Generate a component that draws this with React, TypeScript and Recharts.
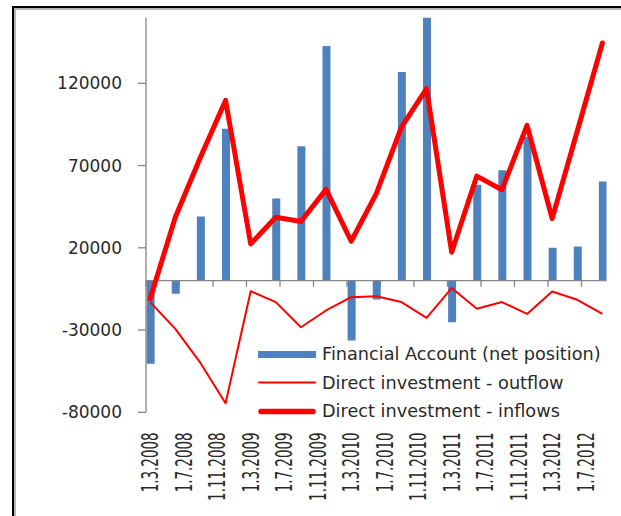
import React from 'react';
import { ComposedChart, Bar, Line, XAxis, YAxis, ReferenceLine, Legend } from 'recharts';

const quarterDates = [
  '1.3.2008', '1.6.2008', '1.9.2008', '1.12.2008',
  '1.3.2009', '1.6.2009', '1.9.2009', '1.12.2009',
  '1.3.2010', '1.6.2010', '1.9.2010', '1.12.2010',
  '1.3.2011', '1.6.2011', '1.9.2011', '1.12.2011',
  '1.3.2012', '1.6.2012', '1.9.2012',
];

const financialAccount = [
  -50500, -8000, 39000, 92400,
  0, 50000, 81800, 142600,
  -36400, -11400, 126800, 160000,
  -25200, 58300, 67200, 87500,
  20000, 20800, 60300,
];

const directOutflow = [
  -13000, -29300, -50000, -74500,
  -6400, -13000, -28300, -18100,
  -10000, -9400, -13000, -22600,
  -4500, -17100, -13000, -20200,
  -6600, -11600, -20200,
];

const directInflows = [
  -11000, 38600, 75100, 109600,
  22400, 38600, 36000, 55500,
  24000, 52900, 93400, 116700,
  17300, 63600, 55300, 94400,
  37700, 91000, 144500,
];

const seriesNames = [
  'Financial Account (net position)',
  'Direct investment - outflow',
  'Direct investment - inflows',
];

const xTickLabels = [
  '1.3.2008', '1.7.2008', '1.11.2008', '1.3.2009', '1.7.2009', '1.11.2009',
  '1.3.2010', '1.7.2010', '1.11.2010', '1.3.2011', '1.7.2011', '1.11.2011',
  '1.3.2012', '1.7.2012',
];

const yTicks = [-80000, -30000, 20000, 70000, 120000];
const yDomain = [-80000, 160000];
const xDomain = [0, 55];

const monthIndex = (d: string) => {
  const parts = d.split('.').map(Number);
  return (parts[2] - 2008) * 12 + (parts[1] - 3);
};

const data = quarterDates.map((d, i) => ({
  date: d,
  t: monthIndex(d) + 0.5,
  fa: financialAccount[i],
  out: directOutflow[i],
  inf: directInflows[i],
}));

const labelTicks = xTickLabels.map((l) => monthIndex(l) + 0.5);
const labelByTick = new Map(labelTicks.map((t, i) => [t, xTickLabels[i]]));
const tickMarks = xTickLabels.map((l) => monthIndex(l));

const FONT = '"DejaVu Sans", Verdana, sans-serif';
const TEXT = '#2a2a2a';
const AXIS = '#868686';
const BLUE = '#4f81bd';
const RED = '#ff0000';

const XTick = (props: any) => {
  const { x, y, payload } = props;
  return (
    <g transform={`translate(${x},${y})`}>
      <g transform="scale(1.7,1)">
        <text
          transform="rotate(-90)"
          textAnchor="end"
          dy="0.36em"
          fontSize={13.5}
          fontFamily={FONT}
          fill={TEXT}
        >
          {labelByTick.get(payload.value)}
        </text>
      </g>
    </g>
  );
};

const iconFor = (key: string) => {
  if (key === 'fa') return <rect x={0} y={6} width={58} height={7} fill={BLUE} />;
  if (key === 'out') return <line x1={1} y1={9.5} x2={57} y2={9.5} stroke={RED} strokeWidth={2} strokeLinecap="round" />;
  return <line x1={3} y1={9.5} x2={55} y2={9.5} stroke={RED} strokeWidth={5.5} strokeLinecap="round" />;
};

const LegendContent = (props: any) => {
  const payload = [...(props.payload || [])].sort(
    (a: any, b: any) => seriesNames.indexOf(a.value) - seriesNames.indexOf(b.value)
  );
  return (
    <div style={{ fontFamily: FONT, fontSize: 17.7, color: TEXT }}>
      {payload.map((p: any) => (
        <div key={String(p.dataKey)} style={{ display: 'flex', alignItems: 'center', height: 28.5, whiteSpace: 'nowrap' }}>
          <svg width={60} height={19} style={{ marginRight: 4, flex: 'none' }}>
            {iconFor(String(p.dataKey))}
          </svg>
          <span>{p.value}</span>
        </div>
      ))}
    </div>
  );
};

export default function App() {
  return (
    <div style={{ position: 'absolute', left: 0, top: 0, width: 621, height: 516, background: '#fff', overflow: 'hidden' }}>
      <div
        style={{
          position: 'absolute',
          left: 12,
          top: 6,
          width: 609,
          height: 510,
          borderLeft: '2.5px solid #000',
          borderTop: '2px solid #000',
          boxShadow: 'inset 2px 2px 0 #b4b4b4',
          boxSizing: 'border-box',
        }}
      />
      <div style={{ position: 'absolute', left: 0, top: 0 }}>
        <ComposedChart
          width={621}
          height={516}
          data={data}
          margin={{ top: 17.5, right: 14.4, bottom: 13.7, left: 86 }}
        >
          <XAxis
            dataKey="t"
            type="number"
            domain={xDomain}
            ticks={labelTicks}
            interval={0}
            axisLine={false}
            tickLine={false}
            tickSize={0}
            tickMargin={20}
            height={90}
            tick={<XTick />}
            allowDataOverflow
          />
          <YAxis
            type="number"
            domain={yDomain}
            ticks={yTicks}
            interval={0}
            width={60}
            allowDataOverflow
            axisLine={{ stroke: AXIS, strokeWidth: 1.3 }}
            tickLine={{ stroke: AXIS, strokeWidth: 1.3 }}
            tickSize={8}
            tickMargin={16}
            tick={{ fontSize: 17, fontFamily: FONT, fill: TEXT }}
          />
          <ReferenceLine y={0} stroke={AXIS} strokeWidth={1.3} />
          {tickMarks.map((m) => (
            <ReferenceLine
              key={m}
              segment={[{ x: m, y: 0 }, { x: m, y: -3650 }]}
              stroke={AXIS}
              strokeWidth={1.3}
            />
          ))}
          <Bar dataKey="fa" name={seriesNames[0]} fill={BLUE} barSize={8} isAnimationActive={false} />
          <Line
            dataKey="out"
            name={seriesNames[1]}
            type="linear"
            stroke={RED}
            strokeWidth={2}
            dot={false}
            activeDot={false}
            strokeLinejoin="round"
            isAnimationActive={false}
          />
          <Line
            dataKey="inf"
            name={seriesNames[2]}
            type="linear"
            stroke={RED}
            strokeWidth={5}
            dot={false}
            activeDot={false}
            strokeLinejoin="round"
            strokeLinecap="round"
            isAnimationActive={false}
          />
          <Legend
            layout="horizontal"
            verticalAlign="middle"
            align="center"
            itemSorter={null as any}
            content={<LegendContent />}
            wrapperStyle={{ left: 258, top: 340, width: 360, height: 86 }}
          />
        </ComposedChart>
      </div>
    </div>
  );
}
